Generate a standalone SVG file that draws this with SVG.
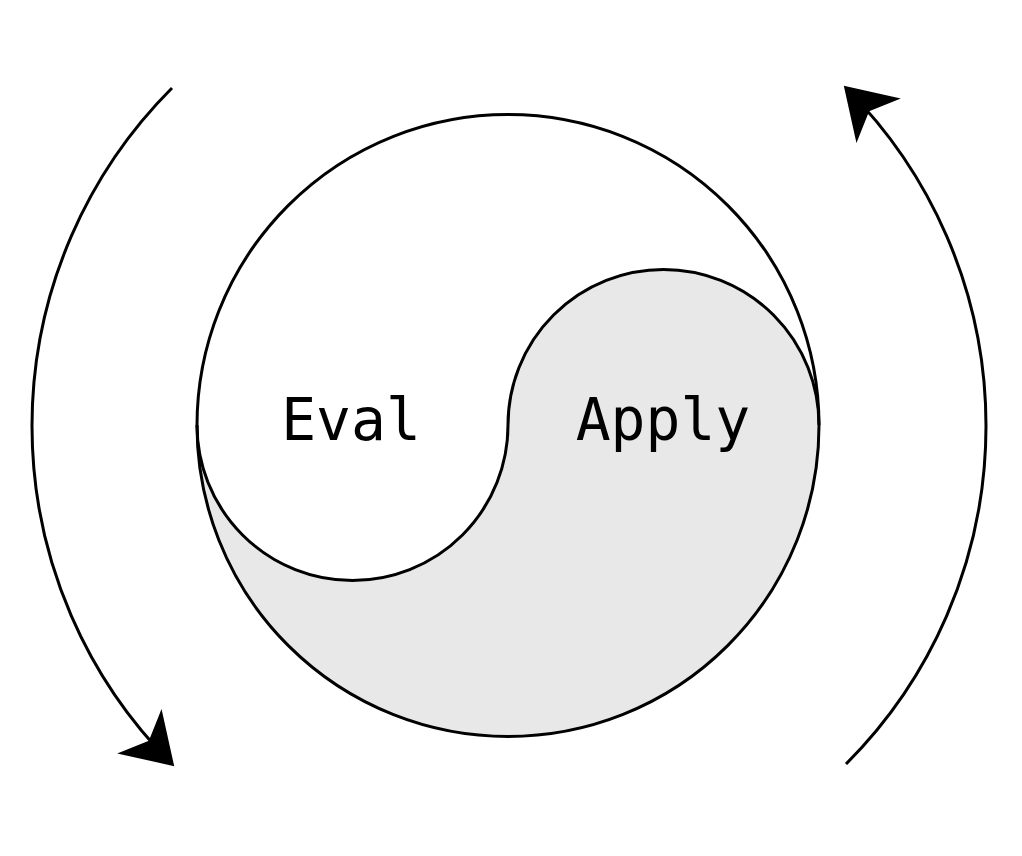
<svg xmlns="http://www.w3.org/2000/svg" width="1022" height="856" viewBox="0 0 1022 856">
<style>
.ln{fill:none;stroke:#000;stroke-width:3}
.t{font-family:"DejaVu Sans Mono",monospace;font-size:58px;fill:#000;text-anchor:middle}
</style>
<defs>
<marker id="ah" viewBox="0 0 10 10" refX="9" refY="5" markerWidth="14" markerHeight="14" markerUnits="userSpaceOnUse" orient="auto" style="overflow:visible">
<path d="M-12,-9 L10,5 L-12,19 L-6,5 Z" fill="#000" transform="scale(1.6) translate(-3,-1.9)"/>
</marker>
</defs>
<rect width="1022" height="856" fill="#fff"/>
<g id="yinyang">
<path d="M197,425 A155.5,155.5 0 0 0 508,425 A155.5,155.5 0 0 1 819,425 A311,311 0 0 1 197,425 Z" fill="#e8e8e8" stroke="none"/>
<circle cx="508" cy="425.5" r="311" class="ln"/>
<path d="M197,425 A155.5,155.5 0 0 0 508,425 A155.5,155.5 0 0 1 819,425" class="ln"/>
</g>
<g id="eval"><text x="351" y="440" class="t">Eval</text></g>
<g id="apply"><text x="663" y="440" class="t">Apply</text></g>
<g id="connectors">
<path d="M172,88 A478,478 0 0 0 172,764" class="ln" marker-end="url(#ah)"/>
<path d="M846,764 A478,478 0 0 0 846,88" class="ln" marker-end="url(#ah)"/>
</g>
</svg>
